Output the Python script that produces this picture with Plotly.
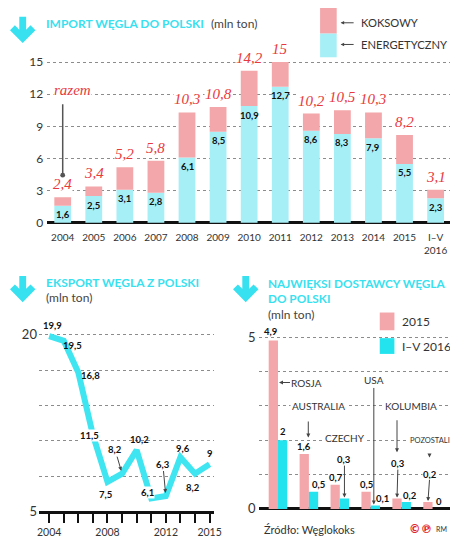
import plotly.graph_objects as go

# ---------------- DATA ----------------
imp_years = ['2004', '2005', '2006', '2007', '2008', '2009', '2010', '2011',
             '2012', '2013', '2014', '2015', 'I–V<br>2016']
imp_total = [2.4, 3.4, 5.2, 5.8, 10.3, 10.8, 14.2, 15, 10.2, 10.5, 10.3, 8.2, 3.1]
imp_energ = [1.6, 2.5, 3.1, 2.8, 6.1, 8.5, 10.9, 12.7, 8.6, 8.3, 7.9, 5.5, 2.3]
imp_koks = [round(t - e, 1) for t, e in zip(imp_total, imp_energ)]

exp_years = [2004, 2005, 2006, 2007, 2008, 2009, 2010, 2011, 2012, 2013, 2014, 2015]
exp_vals = [19.9, 19.5, 16.8, 11.5, 7.5, 8.2, 10.2, 6.1, 6.3, 9.6, 8.2, 9.0]
exp_tick_labels = {2004: '2004', 2008: '2008', 2012: '2012', 2015: '2015'}

suppliers = ['ROSJA', 'AUSTRALIA', 'CZECHY', 'USA', 'KOLUMBIA', 'POZOSTALI']
sup_2015 = [4.9, 1.6, 0.7, 0.5, 0.3, 0.2]
sup_2016 = [2, 0.5, 0.3, 0.1, 0.2, 0]

# ---------------- STYLE ----------------
W, H = 458, 552
CYAN_T = '#38e1ef'
CYAN_L = '#a7eff7'
CYAN_S = '#22e3ee'
PINK = '#f3a7aa'
RED = '#e8393d'
DARK = '#333333'
SANS = 'Lato, Open Sans, sans-serif'
SERIF = 'Liberation Serif, DejaVu Serif, serif'


def px(x):
    return x / W


def py(y):
    return 1 - y / H


def fmt(v):
    return f"{v:g}".replace('.', ',')


fig = go.Figure()

# Panel 1: import
fig.add_trace(go.Bar(x=imp_years, y=imp_energ, width=0.54, offset=-0.27,
                     marker=dict(color=CYAN_L, line=dict(width=0)),
                     xaxis='x', yaxis='y', name='ENERGETYCZNY'))
fig.add_trace(go.Bar(x=imp_years, y=imp_koks, base=imp_energ, width=0.54, offset=-0.27,
                     marker=dict(color=PINK, line=dict(width=0)),
                     xaxis='x', yaxis='y', name='KOKSOWY'))

# Panel 2: export
fig.add_trace(go.Scatter(x=exp_years, y=exp_vals, mode='lines',
                         line=dict(color='#3fe5f1', width=6),
                         xaxis='x2', yaxis='y2', name='Eksport'))

# Panel 3: suppliers
fig.add_trace(go.Bar(x=suppliers, y=sup_2015, width=0.3, offset=-0.3,
                     marker=dict(color=PINK, line=dict(width=0)),
                     xaxis='x3', yaxis='y3', name='2015'))
fig.add_trace(go.Bar(x=suppliers, y=sup_2016, width=0.3, offset=0,
                     marker=dict(color=CYAN_S, line=dict(width=0)),
                     xaxis='x3', yaxis='y3', name='I–V 2016'))

grid = dict(showgrid=True, gridcolor='#8c8c8c', griddash='dot', gridwidth=1)

fig.update_layout(
    width=W, height=H, margin=dict(l=0, r=0, t=0, b=0),
    paper_bgcolor='white', plot_bgcolor='white', showlegend=False,
    hovermode=False, font=dict(family=SANS, color=DARK),
    xaxis=dict(domain=[px(38), px(451)], anchor='y', type='category',
               range=[-0.5, 12.5], showgrid=False, zeroline=False, showline=False,
               ticks='', tickfont=dict(size=10, color=DARK), ticklabelstandoff=5),
    yaxis=dict(domain=[py(220.2), py(38.6)], anchor='x', range=[-0.2, 16.5],
               tickvals=[0, 3, 6, 9, 12, 15], ticks='', **grid,
               zeroline=True, zerolinecolor='#111', zerolinewidth=3,
               tickfont=dict(size=12, color=DARK), ticklabelstandoff=3),
    xaxis2=dict(domain=[px(29.6), px(208.5)], anchor='y2', range=[2003.3, 2015.3],
                tickvals=exp_years,
                ticktext=[exp_tick_labels.get(y, '') for y in exp_years],
                ticks='outside', ticklen=9, tickwidth=1.5, tickcolor='#111',
                showline=True, linecolor='#111', linewidth=3, showgrid=False,
                zeroline=False, tickfont=dict(size=10.5, color=DARK)),
    yaxis2=dict(domain=[py(510.7), py(313.8)], anchor='x2', range=[5, 21.5],
                tickvals=[5, 8, 11, 14, 17, 20], ticktext=['5', '', '', '', '', '20'],
                ticks='', **grid, zeroline=False, showline=False,
                tickfont=dict(size=13, color=DARK), ticklabelstandoff=1),
    xaxis3=dict(domain=[px(255), px(455.7)], anchor='y3', type='category',
                range=[-0.6, 5.75], showticklabels=False, showgrid=False,
                zeroline=False, showline=False, ticks=''),
    yaxis3=dict(domain=[py(510), py(316.6)], anchor='x3', range=[-0.05, 5.5],
                tickvals=[0, 1, 2, 3, 4, 5], ticktext=['0', '', '', '', '', '5'],
                ticks='', **grid, zeroline=True, zerolinecolor='#111', zerolinewidth=3,
                tickfont=dict(size=13, color=DARK), ticklabelstandoff=3),
)

ann = []
shapes = []


def txt(x, y, text, size=12, color=DARK, xanchor='left', bold=False, family=SANS):
    t = f'<b>{text}</b>' if bold else text
    ann.append(dict(x=px(x), y=py(y), xref='paper', yref='paper', text=t,
                    showarrow=False, xanchor=xanchor, yanchor='middle',
                    font=dict(size=size, color=color, family=family)))


def arrow_icon(dx, dy):
    pts = [(9.5, 9), (16.5, 9), (16.5, 22), (21, 17.5), (26, 22.5), (13, 35.5),
           (0, 22.5), (5, 17.5), (9.5, 22)]
    path = 'M ' + ' L '.join(f'{px(x + dx):.5f},{py(y + dy):.5f}' for x, y in pts) + ' Z'
    shapes.append(dict(type='path', path=path, xref='paper', yref='paper',
                       fillcolor=CYAN_T, line=dict(width=0)))


# ---- Titles ----
arrow_icon(0, 0)
txt(35, 16, 'IMPORT WĘGLA DO POLSKI', size=12, color=CYAN_T, bold=True)
txt(203, 16, '(mln ton)', size=12, color='#444')

arrow_icon(0, 263)
txt(35, 279, 'EKSPORT WĘGLA Z POLSKI', size=12, color=CYAN_T, bold=True)
txt(35, 294, '(mln ton)', size=12, color='#444')

arrow_icon(228, 263)
txt(262, 280, 'NAJWIĘKSI DOSTAWCY WĘGLA', size=11.8, color=CYAN_T, bold=True)
txt(262, 295, 'DO POLSKI', size=11.8, color=CYAN_T, bold=True)
txt(262, 311, '(mln ton)', size=12, color='#444')

# ---- Panel 1 legend ----
shapes.append(dict(type='rect', xref='paper', yref='paper', x0=px(317), x1=px(334),
                   y0=py(26), y1=py(0), fillcolor=PINK, line=dict(width=0)))
shapes.append(dict(type='rect', xref='paper', yref='paper', x0=px(317), x1=px(334),
                   y0=py(50), y1=py(26), fillcolor=CYAN_L, line=dict(width=0)))
for yy, lab in [(15, 'KOKSOWY'), (37, 'ENERGETYCZNY')]:
    ann.append(dict(x=px(338), y=py(yy), xref='paper', yref='paper', text=' ',
                    showarrow=True, ax=16, ay=0, arrowhead=2, arrowsize=0.7,
                    arrowwidth=1, arrowcolor='#444', standoff=0))
    txt(357, yy, lab, size=11.2, color=DARK)

# ---- Panel 1 labels ----
for i, (t, e) in enumerate(zip(imp_total, imp_energ)):
    ann.append(dict(x=i, y=t, xref='x', yref='y', text=fmt(t), showarrow=False,
                    yshift=13, bgcolor='white', borderpad=0,
                    font=dict(family=SERIF, size=15, color=RED, style='italic')))
    ann.append(dict(x=i, y=e, xref='x', yref='y', text=f'<b>{fmt(e)}</b>',
                    showarrow=False, yshift=-9,
                    font=dict(family=SANS, size=9.5, color='#111')))
ann.append(dict(x=0.3, y=12.4, xref='x', yref='y', text='razem', showarrow=False,
                bgcolor='white', borderpad=0,
                font=dict(family=SERIF, size=15, color=RED, style='italic')))
ann.append(dict(x=0, y=imp_total[0], xref='x', yref='y', text=' ', yshift=22,
                showarrow=True, ax=0, ay=-80, arrowhead=6, arrowsize=0.8,
                arrowwidth=1.5, arrowcolor='#555', standoff=0))

# ---- Panel 2 labels ----
exp_off = [(3, 11), (9, -5), (12, -3), (-3, -1), (-2, -13), None,
           (3, 11), (-4, 6), None, (3, 9), (-2, -14), (0, 11)]
exp_arrow = {2009: (-7, -24), 2012: (-3, -32)}
for yr, v, off in zip(exp_years, exp_vals, exp_off):
    if yr in exp_arrow:
        axx, ayy = exp_arrow[yr]
        ann.append(dict(x=yr, y=v, xref='x2', yref='y2', text=f'<b>{fmt(v)}</b>',
                        showarrow=True, ax=axx, ay=ayy, arrowhead=2, arrowsize=0.8,
                        arrowwidth=1, arrowcolor='#444', standoff=3,
                        font=dict(size=9.5, color='#111')))
    else:
        ann.append(dict(x=yr, y=v, xref='x2', yref='y2', text=f'<b>{fmt(v)}</b>',
                        showarrow=False, xshift=off[0], yshift=off[1],
                        bgcolor='white' if yr in (2007, 2011) else None, borderpad=0,
                        font=dict(size=9.5, color='#111')))

# ---- Panel 3 legend ----
shapes.append(dict(type='rect', xref='paper', yref='paper', x0=px(378), x1=px(393),
                   y0=py(327), y1=py(309), fillcolor=PINK, line=dict(width=0)))
shapes.append(dict(type='rect', xref='paper', yref='paper', x0=px(378), x1=px(393),
                   y0=py(351), y1=py(335), fillcolor=CYAN_S, line=dict(width=0)))
txt(399, 318, '2015', size=12, color=DARK)
txt(399, 343, 'I–V 2016', size=12, color=DARK)

# ---- Panel 3 value labels ----
ARR = dict(showarrow=True, arrowhead=2, arrowsize=0.8, arrowwidth=1,
           arrowcolor='#444', standoff=1)
lab15 = {0: (-2, 9), 1: (0, 7), 2: (1, 7), 3: (0, 7)}
lab16 = {0: (0, 9), 1: (5, 7), 3: (7, 7), 4: (4, 7), 5: (2, 7)}
arr15 = {4: (1, -35), 5: (2, -28)}
arr16 = {2: (0, -39)}
for i in range(len(suppliers)):
    if i in lab15:
        dx, dy = lab15[i]
        ann.append(dict(x=i - 0.15, y=sup_2015[i], xref='x3', yref='y3',
                        text=f'<b>{fmt(sup_2015[i])}</b>', showarrow=False,
                        xshift=dx, yshift=dy, font=dict(size=9.5, color='#111')))
    if i in arr15:
        axx, ayy = arr15[i]
        ann.append(dict(x=i - 0.15, y=sup_2015[i], xref='x3', yref='y3',
                        text=f'<b>{fmt(sup_2015[i])}</b>', ax=axx, ay=ayy,
                        bgcolor='white', borderpad=0,
                        font=dict(size=9.5, color='#111'), **ARR))
    if i in lab16:
        dx, dy = lab16[i]
        ann.append(dict(x=i + 0.15, y=sup_2016[i], xref='x3', yref='y3',
                        text=f'<b>{fmt(sup_2016[i])}</b>', showarrow=False,
                        xshift=dx, yshift=dy, font=dict(size=9.5, color='#111')))
    if i in arr16:
        axx, ayy = arr16[i]
        ann.append(dict(x=i + 0.15, y=sup_2016[i], xref='x3', yref='y3',
                        text=f'<b>{fmt(sup_2016[i])}</b>', ax=axx, ay=ayy,
                        bgcolor='white', borderpad=0,
                        font=dict(size=9.5, color='#111'), **ARR))

# ---- Panel 3 country labels ----
ann.append(dict(x=0, y=3.68, xref='x3', yref='y3', text=suppliers[0], ax=29, ay=0,
                font=dict(size=10, color=DARK), **ARR))
ann.append(dict(x=1.3, y=3.0, xref='x3', yref='y3', text=suppliers[1], showarrow=False,
                bgcolor='white', borderpad=1, font=dict(size=10, color=DARK)))
ann.append(dict(x=0.98, y=2.05, xref='x3', yref='y3', text=' ', ax=0, ay=-26,
                **ARR))
ann.append(dict(x=2.18, y=2.07, xref='x3', yref='y3', text=suppliers[2], showarrow=False,
                bgcolor='white', borderpad=1, font=dict(size=10, color=DARK)))
ann.append(dict(x=2.15, y=1.62, xref='x3', yref='y3', text=' ', ax=0, ay=-9, **ARR))
ann.append(dict(x=3.1, y=sup_2016[3], xref='x3', yref='y3', text=suppliers[3],
                ax=0, ay=-125, font=dict(size=10, color=DARK), **ARR))
ann.append(dict(x=4.3, y=3.0, xref='x3', yref='y3', text=suppliers[4], showarrow=False,
                bgcolor='white', borderpad=1, font=dict(size=10, color=DARK)))
ann.append(dict(x=3.85, y=1.62, xref='x3', yref='y3', text=' ', ax=0, ay=-42, **ARR))
ann.append(dict(x=5.64, y=1.99, xref='x3', yref='y3', text=suppliers[5], showarrow=False,
                xanchor='right', bgcolor='white', borderpad=1,
                font=dict(size=7.5, color=DARK)))
ann.append(dict(x=4.9, y=1.47, xref='x3', yref='y3', text=' ', ax=0, ay=-12, **ARR))

# ---- Footer ----
txt(258, 529, 'Źródło: Węglokoks', size=11, color=DARK)
txt(433, 529, '<b>©℗</b>', size=11.5, color='#e3262b', family='DejaVu Sans',
    xanchor='right')
txt(449, 529, 'RM', size=7, color=DARK, xanchor='right')

fig.update_layout(annotations=ann, shapes=shapes)
fig.write_html('out.html')
